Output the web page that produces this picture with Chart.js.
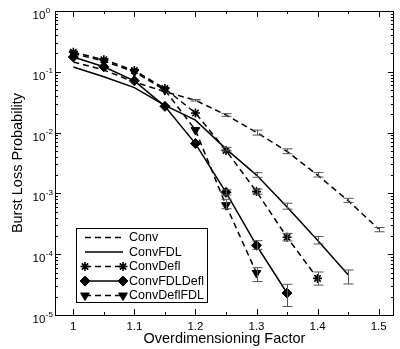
<!DOCTYPE html>
<html>
<head>
<meta charset="utf-8">
<script src="https://cdn.jsdelivr.net/npm/chart.js@4/dist/chart.umd.min.js"></script>
<style>
html, body { margin: 0; padding: 0; background: #fff; }
#wrap { width: 400px; height: 349px; }
</style>
</head>
<body>
<div id="wrap"><canvas id="c" width="400" height="349"></canvas></div>
<script>
// overdimensioning factors (x) and burst loss probabilities
const factors = [1, 1.05, 1.1, 1.15, 1.2, 1.25, 1.3, 1.35, 1.4, 1.45, 1.5];

const conv        = [0.145, 0.107, 0.068, 0.047, 0.034, 0.0195, 0.0101, 0.0049, 0.002, 0.00076, 0.00026];
const convFDL     = [0.12, 0.083, 0.055, 0.028, 0.016, 0.0054, 0.002, 0.0006, 0.00017, 0.000046, null];
const convDefl    = [0.21, 0.158, 0.105, 0.053, 0.021, 0.0051, 0.00107, 0.00019, 0.00004, null, null];
const convFDLDefl = [0.175, 0.121, 0.071, 0.027, 0.0066, 0.00104, 0.00014, 0.000023, null, null, null];
const convDeflFDL = [0.2, 0.15, 0.1, 0.05, 0.011, 0.00064, 0.000049, null, null, null, null];

// error bars (low / high), null where none is drawn
const convLo = [null, null, null, null, 0.033, 0.0185, 0.0091, 0.0045, 0.00186, 0.00071, 0.000234];
const convHi = [null, null, null, null, 0.035, 0.0205, 0.011, 0.0054, 0.0022, 0.00083, 0.000275];
const convFDLLo = [null, null, null, null, null, 0.005, 0.00184, 0.00055, 0.000147, 0.0000324, null];
const convFDLHi = [null, null, null, null, null, 0.0057, 0.0022, 0.00069, 0.000195, 0.000055, null];
const convDeflLo = [null, null, null, null, null, null, 0.00097, 0.000165, 0.000031, null, null];
const convDeflHi = [null, null, null, null, null, null, 0.00118, 0.00022, 0.000051, null, null];
const convFDLDeflLo = [null, null, null, null, null, 0.00094, 0.00012, 0.0000138, null, null, null];
const convFDLDeflHi = [null, null, null, null, null, 0.00114, 0.000167, 0.000032, null, null, null];
const convDeflFDLLo = [null, null, null, null, null, 0.00056, 0.0000355, null, null, null, null];
const convDeflFDLHi = [null, null, null, null, null, 0.0008, 0.00006, null, null, null, null];

// tick labels
const xTicks = [1, 1.1, 1.2, 1.3, 1.4, 1.5];
const xMinorTicks = [1.05, 1.15, 1.25, 1.35, 1.45];
const yTickExps = [0, -1, -2, -3, -4, -5];

const FONT = '"Liberation Sans", Arial, Helvetica, sans-serif';

function pts(arr){
	var out = [];
	for(var i = 0; i < factors.length; i++){
		if(arr[i] !== null) out.push({x: factors[i], y: arr[i]});
	}
	return out;
}

const base = {
	borderColor: '#000',
	backgroundColor: '#000',
	pointBorderColor: '#000',
	pointBackgroundColor: '#000',
	borderWidth: 1.5,
	tension: 0,
	fill: false
};

const datasets = [
	Object.assign({}, base, {label: 'Conv', data: pts(conv), borderDash: [6, 4], pointRadius: 0,
		errLo: convLo, errHi: convHi}),
	Object.assign({}, base, {label: 'ConvFDL', data: pts(convFDL), pointRadius: 0,
		errLo: convFDLLo, errHi: convFDLHi}),
	Object.assign({}, base, {label: 'ConvDefl', data: pts(convDefl), borderDash: [6, 4],
		pointStyle: 'star', pointRadius: 4.5, pointBorderWidth: 1.6,
		errLo: convDeflLo, errHi: convDeflHi}),
	Object.assign({}, base, {label: 'ConvFDLDefl', data: pts(convFDLDefl),
		pointStyle: 'rectRot', pointRadius: 5, pointBorderWidth: 1,
		errLo: convFDLDeflLo, errHi: convFDLDeflHi}),
	Object.assign({}, base, {label: 'ConvDeflFDL', data: pts(convDeflFDL), borderDash: [6, 4],
		pointStyle: 'triangle', pointRotation: 180, pointRadius: 5, pointBorderWidth: 1,
		errLo: convDeflFDLLo, errHi: convDeflFDLHi})
];

const decor = {
	id: 'decor',
	afterDatasetsDraw(chart){
		const ctx = chart.ctx;
		const xs = chart.scales.x, ys = chart.scales.y;

		// error bars
		ctx.save();
		ctx.strokeStyle = '#555';
		ctx.lineWidth = 1;
		ctx.setLineDash([]);
		chart.data.datasets.forEach(function(ds){
			for(var i = 0; i < factors.length; i++){
				if(ds.errLo[i] === null) continue;
				var px = Math.round(xs.getPixelForValue(factors[i])) + 0.5;
				var y1 = ys.getPixelForValue(ds.errLo[i]);
				var y2 = ys.getPixelForValue(ds.errHi[i]);
				ctx.beginPath();
				ctx.moveTo(px, y1); ctx.lineTo(px, y2);
				ctx.moveTo(px - 5, y1); ctx.lineTo(px + 5, y1);
				ctx.moveTo(px - 5, y2); ctx.lineTo(px + 5, y2);
				ctx.stroke();
			}
		});
		ctx.restore();
	},
	afterDraw(chart){
		const ctx = chart.ctx;
		const xs = chart.scales.x, ys = chart.scales.y;
		const a = chart.chartArea;
		ctx.save();
		ctx.strokeStyle = '#000';
		ctx.lineWidth = 1;
		ctx.setLineDash([]);

		// frame
		ctx.strokeRect(Math.round(a.left) + 0.5, Math.round(a.top) + 0.5,
			Math.round(a.right - a.left) - 1, Math.round(a.bottom - a.top));

		// inward ticks, all four sides
		ctx.beginPath();
		xTicks.concat(xMinorTicks).forEach(function(v){
			var len = xTicks.indexOf(v) >= 0 ? 6 : 3;
			var px = Math.round(xs.getPixelForValue(v)) + 0.5;
			ctx.moveTo(px, a.bottom); ctx.lineTo(px, a.bottom - len);
			ctx.moveTo(px, a.top); ctx.lineTo(px, a.top + len);
		});
		yTickExps.forEach(function(e){
			var py = Math.round(ys.getPixelForValue(Math.pow(10, e))) + 0.5;
			ctx.moveTo(a.left, py); ctx.lineTo(a.left + 6, py);
			ctx.moveTo(a.right, py); ctx.lineTo(a.right - 6, py);
			if(e === 0) return;
			for(var m = 2; m <= 9; m++){
				var pm = Math.round(ys.getPixelForValue(m * Math.pow(10, e))) + 0.5;
				ctx.moveTo(a.left, pm); ctx.lineTo(a.left + 3, pm);
				ctx.moveTo(a.right, pm); ctx.lineTo(a.right - 3, pm);
			}
		});
		ctx.stroke();

		// y tick labels 10^n
		ctx.fillStyle = '#000';
		ctx.textAlign = 'left';
		ctx.textBaseline = 'alphabetic';
		yTickExps.forEach(function(e){
			var py = ys.getPixelForValue(Math.pow(10, e));
			ctx.font = '11.5px ' + FONT;
			ctx.fillText('10', 32.5, py + 8);
			var w = ctx.measureText('10').width;
			ctx.font = '8px ' + FONT;
			ctx.fillText(String(e), 32.5 + w + 0.5, py + 1.5);
		});

		// axis titles
		ctx.font = '14.5px ' + FONT;
		ctx.textAlign = 'center';
		ctx.textBaseline = 'middle';
		ctx.fillText('Overdimensioning Factor', (a.left + a.right) / 2, 339);
		ctx.save();
		ctx.translate(18, (a.top + a.bottom) / 2);
		ctx.rotate(-Math.PI / 2);
		ctx.fillText('Burst Loss Probability', 0, 0);
		ctx.restore();

		// legend box
		var bx = 76, by = 228, bw = 131, bh = 74;
		ctx.fillStyle = '#fff';
		ctx.fillRect(bx, by, bw, bh);
		ctx.strokeRect(bx + 0.5, by + 0.5, bw, bh);
		chart.data.datasets.forEach(function(ds, i){
			var y = by + 9.5 + i * 14.5;
			ctx.strokeStyle = '#000';
			ctx.lineWidth = ds.borderWidth;
			ctx.setLineDash(ds.borderDash || []);
			ctx.beginPath();
			ctx.moveTo(85, y); ctx.lineTo(123, y);
			ctx.stroke();
			ctx.setLineDash([]);
			if(ds.pointRadius > 0){
				ctx.fillStyle = '#000';
				ctx.lineWidth = ds.pointBorderWidth;
				var opt = {pointStyle: ds.pointStyle, rotation: ds.pointRotation || 0,
					radius: ds.pointRadius, borderWidth: ds.pointBorderWidth};
				Chart.helpers.drawPoint(ctx, opt, 85, y);
				Chart.helpers.drawPoint(ctx, opt, 123, y);
			}
			ctx.fillStyle = '#000';
			ctx.font = '12.5px ' + FONT;
			ctx.textAlign = 'left';
			ctx.textBaseline = 'middle';
			ctx.fillText(ds.label, 129, y + 0.5);
		});
		ctx.restore();
	}
};

new Chart(document.getElementById('c'), {
	type: 'line',
	data: {datasets: datasets},
	options: {
		responsive: false,
		animation: false,
		devicePixelRatio: 1,
		layout: {padding: {top: 11, right: 1, left: 0, bottom: 0}},
		plugins: {legend: {display: false}, tooltip: {enabled: false}},
		scales: {
			x: {
				type: 'linear',
				min: 0.97,
				max: 1.525,
				grid: {display: false, drawTicks: false},
				border: {display: false},
				ticks: {
					stepSize: 0.1,
					includeBounds: false,
					color: '#000',
					padding: 5,
					maxRotation: 0,
					font: {size: 11.5, family: FONT},
					callback: function(v){ return String(Math.round(v * 10) / 10); }
				},
				afterFit: function(s){ s.height = 34; }
			},
			y: {
				type: 'logarithmic',
				min: 0.00001,
				max: 1,
				grid: {display: false, drawTicks: false},
				border: {display: false},
				ticks: {display: false},
				afterFit: function(s){ s.width = 55; }
			}
		}
	},
	plugins: [decor]
});
</script>
</body>
</html>
